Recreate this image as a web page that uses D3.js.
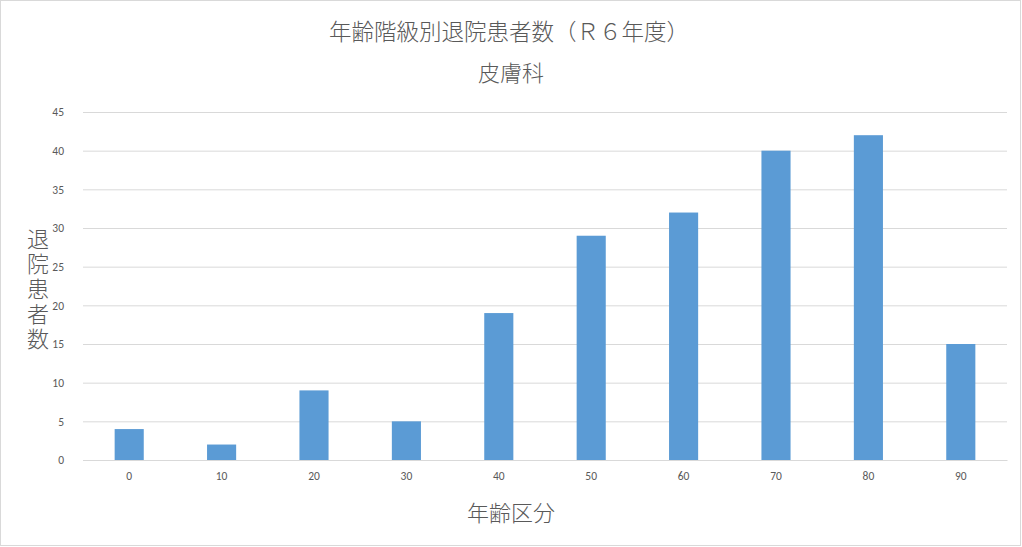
<!DOCTYPE html>
<html><head><meta charset="utf-8">
<script src="https://cdn.jsdelivr.net/npm/d3@7"></script>
<style>body{margin:0;background:#fff}svg{display:block;font-family:"Noto Sans CJK JP","Noto Sans",sans-serif}</style>
</head><body><svg id="c" width="1022" height="547"></svg>
<script>
const categories = ["0","10","20","30","40","50","60","70","80","90"];
const values = [4,2,9,5,19,29,32,40,42,15];
const yTicks = [0,5,10,15,20,25,30,35,40,45];
const title = "年齢階級別退院患者数（Ｒ６年度）";
const subtitle = "皮膚科";
const yTitle = "退院患者数";
const xTitle = "年齢区分";

const svg = d3.select("#c");
const m = {l:83, r:1007, t:112, b:460};
svg.append("rect").attr("x",0.5).attr("y",0.5).attr("width",1020).attr("height",545)
  .attr("fill","#fff").attr("stroke","#d9d9d9");

const x = d3.scaleBand().domain(categories).range([m.l,m.r]).paddingInner(0.685).paddingOuter(0.3425);
const y = d3.scaleLinear().domain([0,45]).range([m.b,m.t]);

const gy = svg.append("g").attr("transform",`translate(${m.l},0)`)
  .call(d3.axisLeft(y).tickValues(yTicks).tickSize(-(m.r-m.l)).tickPadding(19));
gy.select(".domain").remove();
gy.selectAll(".tick line").attr("stroke","#d9d9d9").attr("stroke-width",1);
gy.selectAll(".tick text").attr("fill","#595959").style("font-size","11.5px").style("font-family","Calibri,'Liberation Sans','Noto Sans',sans-serif");

svg.append("g").selectAll("rect").data(values).join("rect")
  .attr("x",(d,i)=>x(categories[i])).attr("width",x.bandwidth())
  .attr("y",d=>y(d)).attr("height",d=>y(0)-y(d)).attr("fill","#5b9bd5");

const gx = svg.append("g").attr("transform",`translate(0,${m.b})`)
  .call(d3.axisBottom(x).tickSize(0).tickPadding(12));
gx.select(".domain").attr("stroke","#d9d9d9");
gx.selectAll(".tick text").attr("fill","#595959").style("font-size","11.5px").style("font-family","Calibri,'Liberation Sans','Noto Sans',sans-serif");

svg.append("text").attr("x",509).attr("y",40).attr("text-anchor","middle")
  .attr("fill","#595959").style("font-size","22.5px").style("font-weight","300").text(title);
svg.append("text").attr("x",511).attr("y",81).attr("text-anchor","middle")
  .attr("fill","#595959").style("font-size","22px").style("font-weight","300").text(subtitle);

svg.append("text").attr("x",38).attr("y",290).attr("text-anchor","middle")
  .attr("fill","#595959").style("font-size","22px").style("font-weight","300")
  .style("writing-mode","vertical-rl").style("text-orientation","upright")
  .style("letter-spacing","3px").text(yTitle);
svg.append("text").attr("x",511).attr("y",521).attr("text-anchor","middle")
  .attr("fill","#595959").style("font-size","22px").style("font-weight","300").text(xTitle);
</script></body></html>
